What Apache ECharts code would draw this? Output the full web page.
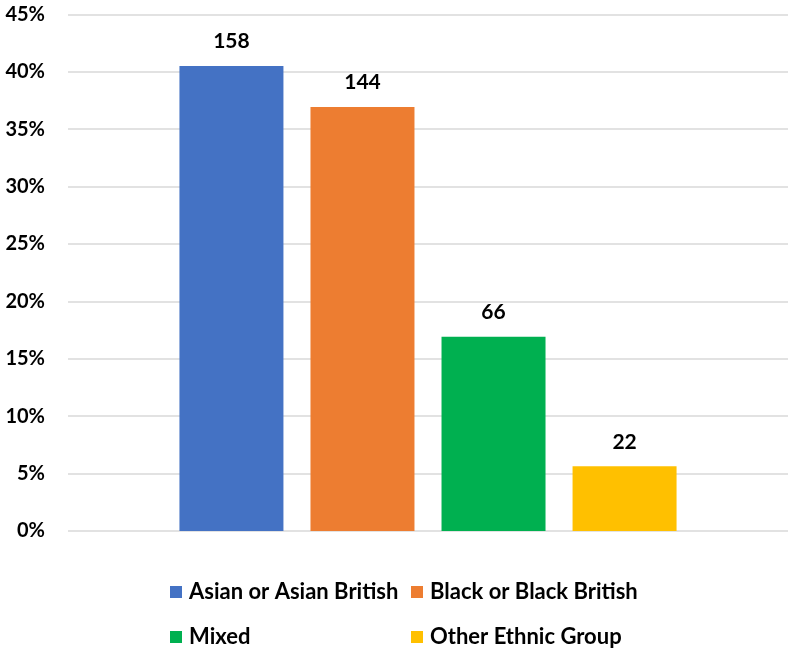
<!DOCTYPE html>
<html>
<head>
<meta charset="utf-8">
<script src="https://cdn.jsdelivr.net/npm/echarts@6/dist/echarts.min.js"></script>
<style>
  html, body { margin: 0; padding: 0; background: #fff; }
  #chart { width: 788px; height: 649px; }
</style>
</head>
<body>
<div id="chart"></div>
<script>
// Ethnic groups and their counts; bar heights are each count's share of the total
const groups = ['Asian or Asian British', 'Black or Black British', 'Mixed', 'Other Ethnic Group'];
const counts = [158, 144, 66, 22];
const colors = ['#4472C4', '#ED7D31', '#00B050', '#FFC000'];
const yTicks = ['0%', '5%', '10%', '15%', '20%', '25%', '30%', '35%', '40%', '45%'];

const total = counts.reduce((a, b) => a + b, 0);
const FONT = 'Lato, "Open Sans", sans-serif';

const chart = echarts.init(document.getElementById('chart'));

const series = groups.map((name, i) => ({
  name: name,
  type: 'bar',
  data: [counts[i] / total],
  barWidth: 104,
  barGap: '26%',
  itemStyle: { color: colors[i] },
  label: {
    show: true,
    position: 'top',
    distance: 14,
    formatter: () => String(counts[i]),
    color: '#000',
    fontFamily: FONT,
    fontWeight: 'bold',
    fontSize: 21
  }
}));

const legendText = {
  color: '#000', fontFamily: FONT, fontWeight: 'bold', fontSize: 22,
  padding: [0, 0, 0, 2]
};

// Legend laid out as a 2x2 table: one legend block per entry
const legendPos = [
  { left: 170, top: 581 },
  { left: 411, top: 581 },
  { left: 170, top: 626 },
  { left: 411, top: 626 }
];
const legends = groups.map((name, i) => ({
  data: [name],
  left: legendPos[i].left,
  top: legendPos[i].top,
  padding: 0,
  itemWidth: 12,
  itemHeight: 12,
  icon: 'rect',
  textStyle: legendText
}));

chart.setOption({
  animation: false,
  grid: { left: 68, right: 0, top: 14.4, bottom: 118, containLabel: false },
  xAxis: {
    type: 'category',
    data: [''],
    axisLine: { show: false },
    axisTick: { show: false },
    axisLabel: { show: false }
  },
  yAxis: {
    type: 'value',
    min: 0,
    max: 0.45,
    interval: 0.05,
    axisLine: { show: false },
    axisTick: { show: false },
    splitLine: { lineStyle: { color: '#d9d9d9', width: 1.5 } },
    axisLabel: {
      margin: 23,
      color: '#000',
      fontFamily: FONT,
      fontWeight: 'bold',
      fontSize: 20,
      formatter: (v) => yTicks[Math.round(v / 0.05)]
    }
  },
  legend: legends,
  series: series
});
</script>
</body>
</html>
